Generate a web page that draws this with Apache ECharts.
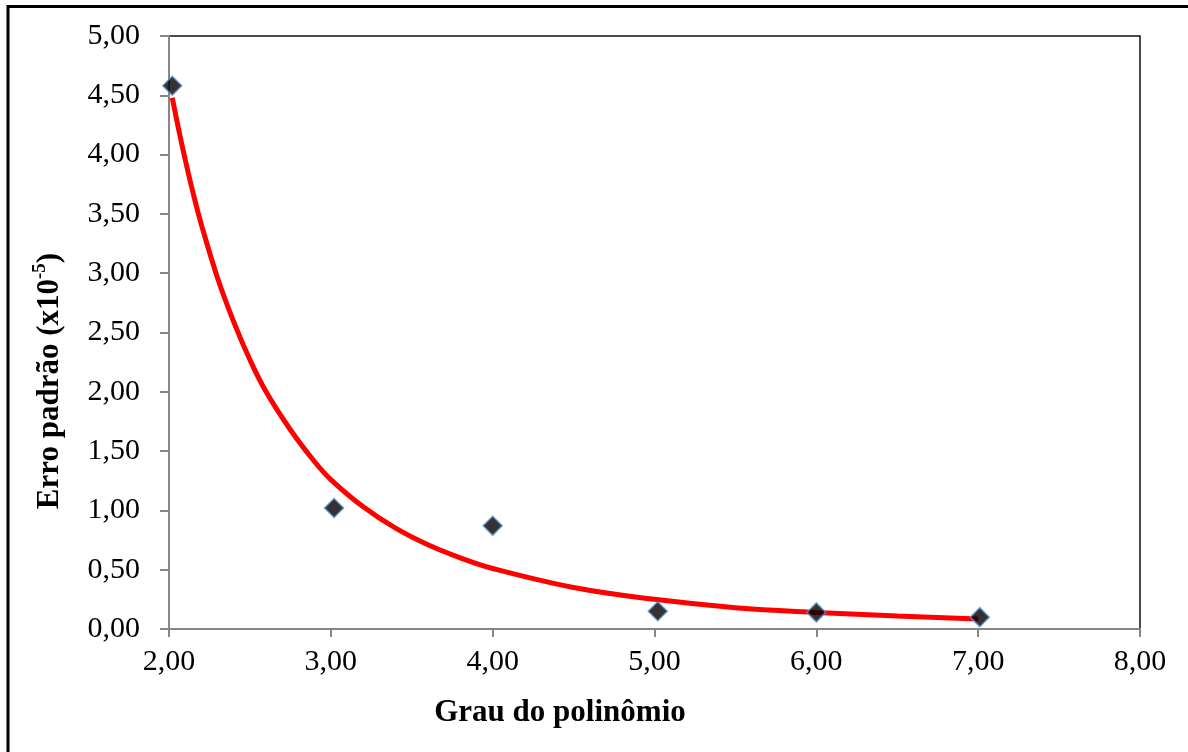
<!DOCTYPE html>
<html>
<head>
<meta charset="utf-8">
<script src="https://cdn.jsdelivr.net/npm/echarts@6/dist/echarts.min.js"></script>
<style>
  html, body { margin: 0; padding: 0; background: #fff; }
  #chart { width: 1188px; height: 752px; }
</style>
</head>
<body>
<div id="chart"></div>
<script>
// Polynomial degree vs. standard error (x10^-5)
const degree = [2.02, 3.02, 4.00, 5.02, 6.00, 7.01];
const stdError = [4.58, 1.02, 0.87, 0.15, 0.14, 0.10];

// Fitted trend curve, sampled along the degree axis
const trendX = [2.02, 2.06, 2.1, 2.15, 2.2, 2.3, 2.4, 2.5, 2.6, 2.75, 2.9, 3.0, 3.2, 3.4, 3.6, 3.8, 4.0, 4.5, 5.0, 5.5, 6.0, 6.5, 7.0];
const trendY = [4.48, 4.21, 3.96, 3.67, 3.41, 2.96, 2.59, 2.27, 2.00, 1.68, 1.41, 1.26, 1.03, 0.85, 0.71, 0.60, 0.51, 0.35, 0.25, 0.18, 0.14, 0.11, 0.085];

const xTitle = 'Grau do polinômio';
const yTitle = 'Erro padrão (x10';
const ySup = '-5';

const fmt = v => v.toFixed(2).replace('.', ',');
const serif = '"Liberation Serif", "Times New Roman", serif';

const chart = echarts.init(document.getElementById('chart'), null, { renderer: 'canvas' });

chart.setOption({
  backgroundColor: '#fff',
  animation: false,
  grid: {
    left: 169, right: 48, top: 36, bottom: 123,
    show: true, borderColor: '#111', borderWidth: 1.5, backgroundColor: 'transparent'
  },
  xAxis: {
    type: 'value', min: 2, max: 8, interval: 1,
    axisLine: { show: true, onZero: false, lineStyle: { color: '#868686', width: 2 } },
    axisTick: { show: true, length: 8, lineStyle: { color: '#868686', width: 2 } },
    splitLine: { show: false },
    axisLabel: { color: '#000', fontFamily: serif, fontSize: 30, margin: 18, formatter: fmt }
  },
  yAxis: {
    type: 'value', min: 0, max: 5, interval: 0.5,
    axisLine: { show: true, onZero: false, lineStyle: { color: '#868686', width: 2 } },
    axisTick: { show: true, length: 9, lineStyle: { color: '#868686', width: 2 } },
    splitLine: { show: false },
    axisLabel: { color: '#000', fontFamily: serif, fontSize: 30, margin: 29, formatter: fmt }
  },
  series: [
    {
      type: 'line',
      data: trendX.map((x, i) => [x, trendY[i]]),
      smooth: 0.4,
      showSymbol: false,
      lineStyle: { color: '#ff0000', width: 5 },
      z: 2
    },
    {
      type: 'scatter',
      data: degree.map((x, i) => [x, stdError[i]]),
      symbol: 'diamond',
      symbolSize: 19,
      itemStyle: { color: '#000', borderColor: '#5b8fd0', borderWidth: 1.5 },
      z: 3
    }
  ],
  graphic: [
    {
      type: 'rect',
      shape: { x: 8, y: 6.5, width: 1300, height: 900 },
      style: { fill: 'none', stroke: '#000', lineWidth: 3 },
      silent: true
    },
    {
      type: 'text',
      x: 560, y: 713,
      style: {
        text: xTitle,
        font: 'bold 31px ' + serif,
        fill: '#000',
        textAlign: 'center',
        textVerticalAlign: 'middle'
      }
    },
    {
      type: 'text',
      x: 48, y: 381,
      rotation: Math.PI / 2,
      style: {
        text: '{a|' + yTitle + '}{s|' + ySup + '}{a|)}',
        fill: '#000',
        textAlign: 'center',
        textVerticalAlign: 'middle',
        rich: {
          a: { font: 'bold 31px ' + serif, fill: '#000', verticalAlign: 'bottom', lineHeight: 34 },
          s: { font: 'bold 19px ' + serif, fill: '#000', verticalAlign: 'top', lineHeight: 34 }
        }
      }
    }
  ]
});
</script>
</body>
</html>
